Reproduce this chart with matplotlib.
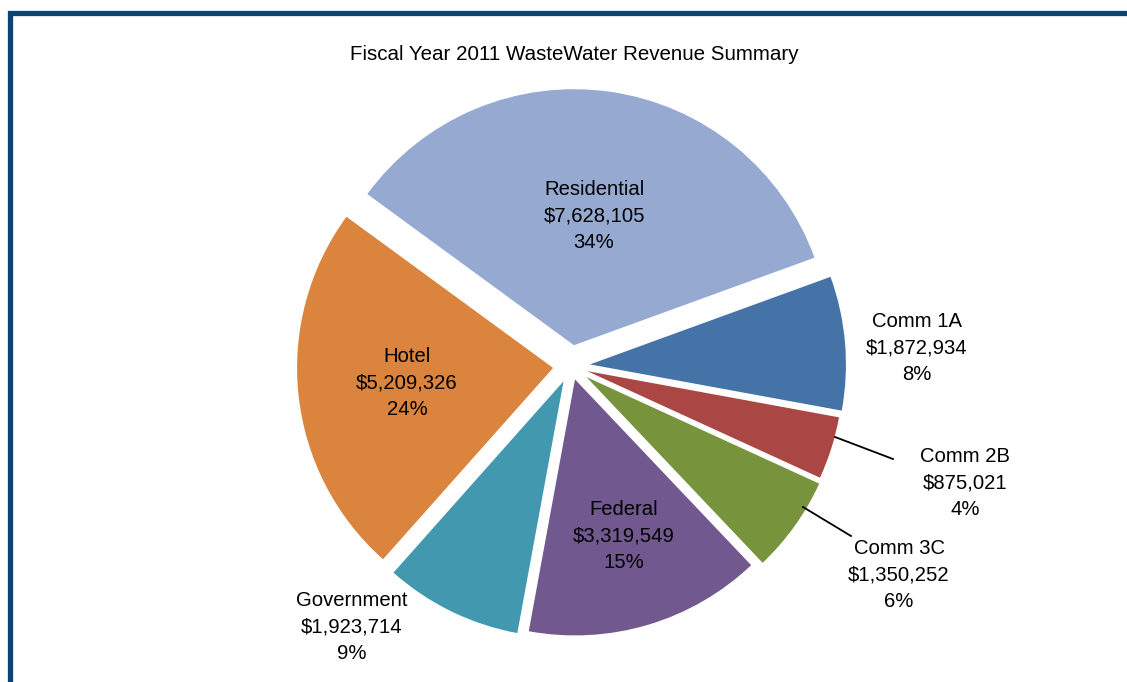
import matplotlib.pyplot as plt
from matplotlib.patches import Rectangle

plt.rcParams['font.family'] = ['Liberation Sans', 'DejaVu Sans']

# data, in the order the slices run clockwise
categories = ['Comm 1A', 'Comm 2B', 'Comm 3C', 'Federal', 'Government', 'Hotel', 'Residential']
revenue = [1872934, 875021, 1350252, 3319549, 1923714, 5209326, 7628105]
pct_labels = ['8%', '4%', '6%', '15%', '9%', '24%', '34%']
colors = ['#4572A7', '#AA4643', '#77933C', '#71588F', '#4198AF', '#DB843D', '#95A9D1']
# explode distances (in pixels, since the axes use pixel units)
explode = [19, 17, 19, 14, 17, 18, 21]

title = 'Fiscal Year 2011 WasteWater Revenue Summary'

W, H = 1127, 682
fig = plt.figure(figsize=(W / 100, H / 100), dpi=100)
ax = fig.add_axes([0, 0, 1, 1])


def py(y):
    # pixel row -> data y
    return H - y


wedges, _ = ax.pie(revenue, colors=colors, explode=explode, startangle=20,
                   counterclock=False, center=(571, py(366)), radius=256,
                   wedgeprops=dict(linewidth=0))
ax.set_xlim(0, W)
ax.set_ylim(0, H)
ax.set_aspect('equal')
ax.axis('off')

# label centres (pixels) and leader lines for the two small slices
label_pos = [(917, 348), (965, 483), (899, 575), (624, 536), (352, 627), (407, 383), (594, 216)]
leaders = {1: [(835, 437), (893, 459)], 2: [(803, 507), (851, 536)]}

for i, name in enumerate(categories):
    txt = '%s\n$%s\n%s' % (name, format(revenue[i], ','), pct_labels[i])
    x, y = label_pos[i]
    ax.text(x, py(y), txt, ha='center', va='center', fontsize=14.6,
            linespacing=1.48, color='black')
    if i in leaders:
        (x0, y0), (x1, y1) = leaders[i]
        ax.plot([x0, x1], [py(y0), py(y1)], color='black', lw=1.3)

ax.text(574, py(55), title, ha='center', va='center', fontsize=14.8)

# dark blue frame, cut off at right and bottom like the original
ax.add_patch(Rectangle((9.5, py(700)), 1200, 700 - 12.5, fill=False,
                       edgecolor='#0A4472', lw=3.8, clip_on=False))

fig.savefig('out.png', dpi=100)
